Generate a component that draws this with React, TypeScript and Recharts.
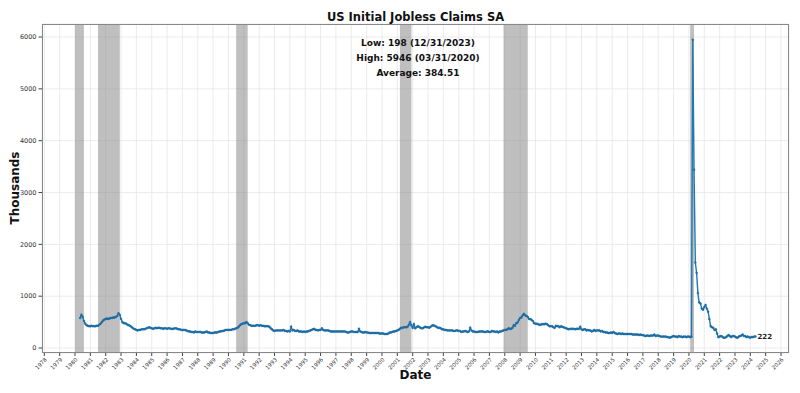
import React from 'react';
import { ComposedChart, Line, XAxis, YAxis, CartesianGrid, ReferenceArea } from 'recharts';

// monthly (month-end) initial claims, thousands, starting Apr 1980
const firstYear = 1980;
const firstMonth = 4;

const claims1980s = [
    580, 640, 600, 520, 470, 440, 430, 420, 420,
    430, 420, 420, 420, 430, 430, 450, 470, 500, 530, 550, 560,
    570, 560, 570, 580, 580, 590, 590, 600, 620, 670, 640, 560,
    500, 480, 480, 470, 450, 440, 430, 410, 390, 370, 360, 350,
    340, 350, 350, 360, 360, 360, 370, 380, 390, 400, 390, 380,
    370, 380, 390, 380, 390, 390, 380, 380, 370, 380, 380, 370,
    380, 380, 370, 370, 370, 380, 380, 370, 360, 360, 350, 350,
    350, 350, 340, 330, 320, 320, 310, 310, 300, 320, 310, 310,
    310, 310, 300, 300, 300, 310, 320, 300, 300, 290, 290, 290,
    300, 300, 300, 310, 320, 320, 330, 330, 340, 350, 350, 350,
];
const claims1990s = [
    350, 350, 360, 360, 370, 380, 390, 410, 440, 460, 470, 480,
    480, 500, 480, 450, 440, 430, 430, 430, 430, 440, 440, 430,
    440, 430, 430, 420, 420, 420, 420, 410, 380, 360, 340, 330,
    340, 340, 340, 340, 340, 340, 350, 330, 330, 320, 330, 320,
    410, 340, 350, 330, 330, 340, 320, 320, 320, 310, 320, 310,
    320, 320, 330, 340, 350, 360, 370, 350, 350, 340, 350, 350,
    380, 350, 340, 340, 340, 340, 330, 320, 320, 320, 320, 320,
    320, 320, 320, 320, 320, 320, 320, 310, 300, 300, 310, 320,
    320, 310, 310, 310, 310, 370, 320, 310, 300, 300, 310, 300,
    300, 290, 290, 290, 290, 290, 290, 290, 290, 280, 280, 280,
];
const claims2000s = [
    280, 270, 270, 270, 280, 300, 300, 310, 320, 320, 330, 340,
    350, 370, 390, 390, 400, 400, 400, 410, 450, 500, 440, 390,
    460, 380, 400, 420, 410, 390, 380, 380, 400, 410, 400, 400,
    390, 410, 430, 440, 430, 420, 400, 390, 390, 380, 360, 360,
    350, 350, 340, 340, 340, 340, 340, 330, 330, 340, 340, 330,
    330, 310, 320, 320, 330, 320, 310, 320, 390, 340, 320, 320,
    310, 310, 310, 320, 320, 320, 320, 310, 310, 320, 320, 310,
    310, 330, 320, 320, 310, 320, 300, 320, 320, 330, 340, 350,
    350, 360, 380, 370, 370, 390, 440, 430, 480, 490, 540, 580,
    590, 630, 660, 630, 620, 600, 560, 560, 540, 520, 480, 470,
];
const claims2010s = [
    470, 460, 450, 450, 460, 460, 460, 470, 460, 440, 420, 420,
    420, 400, 390, 430, 420, 420, 400, 420, 410, 400, 390, 380,
    370, 360, 370, 370, 370, 370, 360, 370, 370, 370, 410, 360,
    350, 360, 360, 340, 350, 340, 340, 320, 330, 350, 330, 340,
    340, 340, 320, 330, 310, 310, 300, 300, 290, 290, 300, 290,
    310, 290, 280, 270, 280, 280, 270, 280, 270, 270, 270, 270,
    270, 270, 270, 260, 260, 260, 260, 260, 250, 260, 250, 250,
    240, 230, 240, 240, 230, 240, 240, 240, 260, 230, 240, 240,
    230, 220, 220, 220, 220, 220, 210, 210, 200, 210, 220, 230,
    220, 220, 210, 230, 220, 220, 210, 220, 220, 210, 220, 220,
];
const claims2020s = [
    210, 220, 5946, 3440, 1650, 1450, 1060, 880, 860, 760, 740, 790,
    830, 760, 700, 560, 420, 400, 390, 350, 360, 280, 210, 220,
    230, 220, 200, 200, 210, 230, 250, 230, 210, 230, 230, 220,
    205, 200, 220, 230, 240, 260, 230, 230, 210, 220, 210, 198,
    215, 210, 220, 222,
];

// NBER recessions as decimal years (start of first month, end of last month)
const recessionStarts = [1980.0, 1981.5, 1990.5, 2001.17, 2007.92, 2020.08];
const recessionEnds = [1980.58, 1982.92, 1991.25, 2001.92, 2009.5, 2020.33];

const yearTicks = Array.from({ length: 49 }, (_, i) => 1978 + i);
const valueTicks = [0, 1000, 2000, 3000, 4000, 5000, 6000];

const allClaims = [...claims1980s, ...claims1990s, ...claims2000s, ...claims2010s, ...claims2020s];
const data = allClaims.map((v, i) => {
    const m = firstYear * 12 + (firstMonth - 1) + i;
    const year = Math.floor(m / 12);
    const month = (m % 12) + 1;
    return { t: year + month / 12, claims: v };
});

const font = '"DejaVu Sans", sans-serif';
const blue = '#1f77b4';

const XTick = (props: any) => {
    const { x, y, payload } = props;
    return (
        <g transform={`translate(${x + 3},${y + 2})`}>
            <text x={0} y={0} textAnchor="end" transform="rotate(-45)" fontSize={5.5} fill="#333" fontFamily={font}>
                {payload.value}
            </text>
        </g>
    );
};

const Dot = (props: any) => {
    const { cx, cy, index } = props;
    return <circle key={`d-${index}`} cx={cx} cy={cy} r={1} fill={blue} stroke="#1a5f90" strokeWidth={0.4} />;
};

const EndLabel = (props: any) => {
    const { x, y, index, value } = props;
    if (index !== data.length - 1) return null;
    return (
        <text x={x + 2} y={y + 2.5} fontSize={7} fontWeight="bold" fill="#222" fontFamily={font}>
            {value}
        </text>
    );
};

export default function App() {
    return (
        <div style={{ position: 'absolute', left: 0, top: 0, width: 800, height: 393, background: '#fff', fontFamily: font }}>
            <ComposedChart width={800} height={393} data={data} margin={{ top: 24, right: 11, bottom: 0, left: 8 }}>
                <CartesianGrid stroke="#e6e6e6" strokeWidth={0.8} />
                {recessionStarts.map((s, i) => (
                    <ReferenceArea key={`r-${i}`} x1={s} x2={recessionEnds[i]} fill="#808080" fillOpacity={0.5} strokeWidth={0} />
                ))}
                <XAxis
                    type="number"
                    dataKey="t"
                    domain={[1977.85, 2026.52]}
                    ticks={yearTicks}
                    interval={0}
                    allowDataOverflow
                    height={40}
                    axisLine={false}
                    tickSize={3}
                    tickLine={{ stroke: '#444' }}
                    tick={<XTick />}
                />
                <YAxis
                    type="number"
                    domain={[-96, 6251]}
                    ticks={valueTicks}
                    allowDataOverflow
                    width={34}
                    axisLine={false}
                    tickSize={3.5}
                    tickLine={{ stroke: '#444' }}
                    tick={{ fontSize: 6.5, fill: '#333', fontFamily: font }}
                />
                <Line
                    type="linear"
                    dataKey="claims"
                    stroke={blue}
                    strokeWidth={1.4}
                    dot={<Dot />}
                    isAnimationActive={false}
                    label={<EndLabel />}
                />
            </ComposedChart>
            <div style={{ position: 'absolute', left: 42, top: 24, width: 747, height: 329, border: '1px solid #888', boxSizing: 'border-box', pointerEvents: 'none' }} />
            <div style={{ position: 'absolute', left: 42, width: 747, top: 10, textAlign: 'center', fontSize: 11.5, fontWeight: 'bold', color: '#111' }}>
                US Initial Jobless Claims SA
            </div>
            <div style={{ position: 'absolute', left: 318, width: 200, top: 36, textAlign: 'center', fontSize: 9, fontWeight: 'bold', color: '#111', lineHeight: '15px' }}>
                <div>Low: 198 (12/31/2023)</div>
                <div>High: 5946 (03/31/2020)</div>
                <div>Average: 384.51</div>
            </div>
            <div style={{ position: 'absolute', left: 42, width: 747, top: 368, textAlign: 'center', fontSize: 12, fontWeight: 'bold', color: '#111' }}>
                Date
            </div>
            <div style={{ position: 'absolute', left: 15, top: 188, transform: 'translate(-50%, -50%) rotate(-90deg)', fontSize: 12, fontWeight: 'bold', color: '#111', whiteSpace: 'nowrap' }}>
                Thousands
            </div>
        </div>
    );
}
